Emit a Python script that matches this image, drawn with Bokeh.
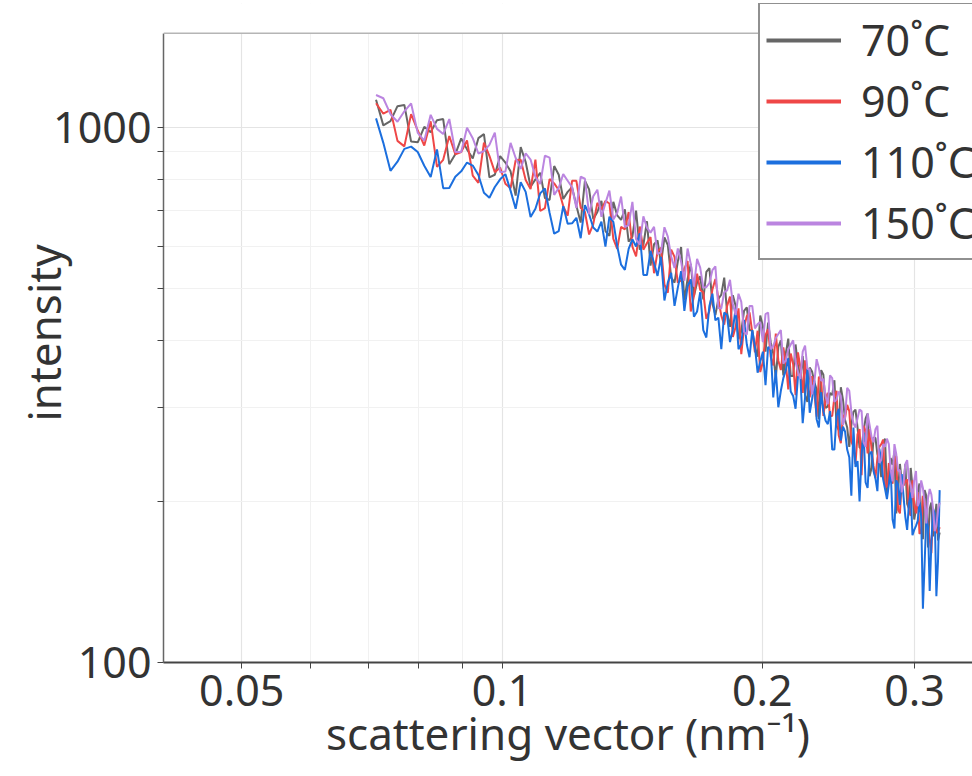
from bokeh.plotting import figure
from bokeh.models import Range1d, FixedTicker, Legend, LegendItem, BoxAnnotation, Span
from bokeh.embed import file_html
from bokeh.resources import INLINE

# scattering vector (nm^-1)
q = [0.0715, 0.0729, 0.0743, 0.0757, 0.0771, 0.0785, 0.0799, 0.0813, 0.0827, 0.0841,
     0.0855, 0.0869, 0.0883, 0.0897, 0.0911, 0.0925, 0.0939, 0.0953, 0.0967, 0.0981,
     0.0995, 0.1009, 0.1023, 0.1037, 0.1051, 0.1065, 0.1079, 0.1093, 0.1107, 0.1121,
     0.1135, 0.1149, 0.1163, 0.1177, 0.1191, 0.1205, 0.1219, 0.1233, 0.1247, 0.1261,
     0.1275, 0.1289, 0.1303, 0.1317, 0.1331, 0.1345, 0.1359, 0.1373, 0.1387, 0.1401,
     0.1415, 0.1429, 0.1443, 0.1457, 0.1471, 0.1485, 0.1499, 0.1513, 0.1527, 0.1541,
     0.1555, 0.1569, 0.1583, 0.1597, 0.1611, 0.1625, 0.1639, 0.1653, 0.1667, 0.1681,
     0.1695, 0.1709, 0.1723, 0.1737, 0.1751, 0.1765, 0.1779, 0.1793, 0.1807, 0.1821,
     0.1835, 0.1849, 0.1863, 0.1877, 0.1891, 0.1905, 0.1919, 0.1933, 0.1947, 0.1961,
     0.1975, 0.1989, 0.2003, 0.2017, 0.2031, 0.2045, 0.2059, 0.2073, 0.2087, 0.2101,
     0.2115, 0.2129, 0.2143, 0.2157, 0.2171, 0.2185, 0.2199, 0.2213, 0.2227, 0.2241,
     0.2255, 0.2269, 0.2283, 0.2297, 0.2311, 0.2325, 0.2339, 0.2353, 0.2367, 0.2381,
     0.2395, 0.2409, 0.2423, 0.2437, 0.2451, 0.2465, 0.2479, 0.2493, 0.2507, 0.2521,
     0.2535, 0.2549, 0.2563, 0.2577, 0.2591, 0.2605, 0.2619, 0.2633, 0.2647, 0.2661,
     0.2675, 0.2689, 0.2703, 0.2717, 0.2731, 0.2745, 0.2759, 0.2773, 0.2787, 0.2801,
     0.2815, 0.2829, 0.2843, 0.2857, 0.2871, 0.2885, 0.2899, 0.2913, 0.2927, 0.2941,
     0.2955, 0.2969, 0.2983, 0.2997, 0.3011, 0.3025, 0.3039, 0.3053, 0.3067, 0.3081,
     0.3095, 0.3109, 0.3123, 0.3137, 0.3151, 0.3165, 0.3179, 0.3193, 0.3207]

i70 = [1127, 1009, 1028, 1096, 1102, 941, 938, 1003, 980, 1032,
       1037, 854, 891, 954, 910, 875, 955, 972, 807, 816,
       884, 860, 828, 746, 919, 862, 775, 800, 823, 738,
       732, 847, 816, 735, 758, 773, 714, 664, 795, 766,
       674, 695, 729, 640, 627, 726, 685, 672, 703, 612,
       625, 699, 591, 603, 668, 552, 605, 615, 556, 623,
       603, 524, 513, 562, 598, 475, 521, 556, 484, 513,
       527, 477, 537, 546, 469, 446, 478, 487, 524, 450,
       424, 486, 464, 402, 416, 454, 461, 418, 418, 389,
       373, 445, 425, 381, 432, 397, 378, 340, 389, 400,
       344, 378, 403, 343, 343, 393, 359, 343, 374, 316,
       307, 356, 350, 334, 324, 285, 352, 345, 299, 301,
       319, 316, 337, 277, 272, 327, 310, 284, 275, 253,
       278, 294, 297, 275, 252, 252, 271, 286, 292, 223,
       231, 263, 263, 245, 239, 222, 258, 262, 206, 222,
       241, 234, 248, 190, 210, 235, 218, 216, 235, 198,
       194, 231, 213, 185, 194, 208, 216, 190, 170, 210,
       205, 164, 194, 199, 172, 183, 198, 169, 175]

i90 = [1110, 1061, 1079, 944, 922, 1059, 987, 925, 1027, 844,
       870, 964, 891, 900, 946, 813, 788, 937, 885, 825,
       842, 785, 770, 869, 870, 798, 767, 871, 698, 707,
       801, 786, 764, 713, 684, 795, 795, 708, 695, 631,
       660, 723, 702, 729, 721, 619, 593, 652, 645, 695,
       599, 574, 653, 591, 608, 624, 534, 586, 596, 509,
       491, 591, 573, 513, 518, 544, 563, 453, 484, 533,
       497, 492, 439, 454, 498, 521, 478, 445, 428, 464,
       483, 406, 424, 459, 377, 424, 444, 451, 414, 380,
       417, 349, 365, 409, 420, 373, 359, 412, 367, 352,
       388, 363, 324, 378, 361, 316, 380, 356, 319, 367,
       327, 313, 343, 320, 288, 342, 339, 289, 311, 319,
       289, 289, 313, 322, 266, 257, 290, 287, 303, 295,
       259, 253, 235, 267, 273, 224, 277, 271, 246, 273,
       251, 233, 221, 241, 253, 256, 261, 213, 213, 236,
       220, 216, 239, 243, 193, 190, 218, 214, 218, 220,
       192, 188, 219, 197, 190, 208, 174, 175, 205, 199,
       192, 179, 170, 160, 192, 187, 175, 175, 179]

i110 = [1040, 936, 830, 863, 912, 921, 900, 848, 808, 910,
        770, 771, 809, 828, 860, 849, 815, 755, 739, 774,
        800, 818, 762, 705, 790, 758, 680, 705, 753, 769,
        693, 633, 640, 713, 661, 662, 678, 621, 716, 688,
        650, 639, 667, 599, 681, 666, 600, 554, 542, 593,
        618, 599, 634, 530, 530, 588, 558, 528, 573, 475,
        513, 535, 464, 502, 539, 454, 505, 520, 443, 453,
        492, 418, 405, 464, 489, 436, 441, 385, 451, 446,
        397, 419, 460, 385, 394, 437, 393, 372, 418, 389,
        348, 365, 381, 330, 389, 385, 313, 352, 300, 322,
        340, 352, 371, 321, 315, 298, 342, 343, 280, 313,
        354, 293, 310, 337, 285, 275, 320, 295, 283, 279,
        295, 250, 250, 289, 298, 260, 276, 270, 250, 242,
        205, 275, 232, 238, 200, 245, 269, 217, 212, 245,
        248, 228, 221, 209, 251, 239, 220, 211, 202, 215,
        229, 185, 178, 219, 215, 197, 225, 204, 187, 177,
        198, 208, 173, 177, 180, 184, 200, 188, 126, 153,
        188, 179, 136, 167, 194, 190, 133, 155, 210]

i150 = [1150, 1134, 1059, 1025, 1072, 1109, 977, 945, 1056, 994,
        972, 1037, 900, 900, 999, 955, 894, 903, 928, 978,
        825, 827, 936, 877, 837, 895, 871, 808, 784, 886,
        878, 748, 771, 818, 795, 773, 707, 809, 802, 688,
        744, 765, 681, 722, 762, 673, 692, 743, 651, 657,
        726, 618, 604, 682, 650, 636, 652, 580, 584, 651,
        625, 574, 546, 594, 561, 517, 594, 556, 504, 568,
        547, 502, 503, 512, 541, 550, 460, 459, 492, 496,
        519, 468, 446, 489, 472, 415, 410, 464, 464, 421,
        429, 433, 397, 448, 451, 385, 390, 404, 411, 418,
        362, 367, 385, 393, 400, 365, 349, 339, 381, 391,
        354, 353, 317, 334, 369, 355, 336, 339, 314, 304,
        344, 340, 307, 310, 321, 315, 278, 287, 326, 322,
        294, 280, 275, 286, 297, 295, 258, 253, 292, 278,
        264, 258, 273, 277, 236, 239, 256, 253, 262, 256,
        229, 218, 256, 245, 228, 229, 208, 216, 235, 239,
        220, 214, 203, 219, 228, 196, 200, 219, 212, 199,
        182, 203, 211, 206, 194, 176, 180, 193, 199]

labels = ["70˚C", "90˚C", "110˚C", "150˚C"]
colors = ["#666666", "#ef4747", "#1c6fde", "#bb85e0"]
series = [i70, i90, i110, i150]

x_major = [0.05, 0.1, 0.2, 0.3]
x_minor = [0.04, 0.06, 0.07, 0.08, 0.09]
y_major = [100, 1000]
y_minor = [200, 300, 400, 500, 600, 700, 800, 900]
y_top = 1500

FONT = "Noto Sans"

p = figure(width=972, height=776, x_axis_type="log", y_axis_type="log",
           x_range=Range1d(0.0406, 0.350), y_range=Range1d(100, 1705),
           output_backend="svg", toolbar_location=None,
           min_border_left=163, min_border_right=0, min_border_top=3, min_border_bottom=114)
p.outline_line_color = None
p.background_fill_color = "white"

for ys, c in zip(series, colors):
    p.line(q, ys, line_color=c, line_width=2)

# white area above the plotting region and its top border line
p.add_layout(BoxAnnotation(bottom=y_top, fill_color="white", fill_alpha=1.0, line_alpha=0))
p.add_layout(Span(location=y_top, dimension="width", line_color="#b5b5b5", line_width=1.5))

# legend-only renderers with thicker strokes
legend_items = []
for lab, c, ys in zip(labels, colors, series):
    r = p.line([q[0]], [ys[0]], line_color=c, line_width=4)
    legend_items.append(LegendItem(label=lab, renderers=[r]))

# axes
p.xaxis.ticker = FixedTicker(ticks=x_major, minor_ticks=x_minor)
p.yaxis.ticker = FixedTicker(ticks=y_major, minor_ticks=y_minor)
p.xaxis.major_label_overrides = {0.05: "0.05", 0.1: "0.1", 0.2: "0.2", 0.3: "0.3"}
p.yaxis.major_label_overrides = {100: "100", 1000: "1000"}
p.yaxis.bounds = (100, y_top)

for ax in (p.xaxis[0], p.yaxis[0]):
    ax.major_label_text_font = FONT
    ax.major_label_text_font_size = "43px"
    ax.major_label_text_color = "#333333"
    ax.axis_label_text_font = FONT
    ax.axis_label_text_font_style = "normal"
    ax.axis_label_text_color = "#333333"
    ax.major_tick_in = 0
    ax.major_tick_out = 6
    ax.minor_tick_in = 0
    ax.minor_tick_out = 6
    ax.major_tick_line_color = "#444444"
    ax.minor_tick_line_color = "#444444"
    ax.major_label_standoff = 6

p.xaxis.axis_label = "scattering vector (nm⁻¹)"
p.yaxis.axis_label = "intensity"
p.xaxis.axis_label_text_font_size = "44px"
p.yaxis.axis_label_text_font_size = "44px"
p.xaxis.axis_line_color = "#444444"
p.xaxis.axis_line_width = 2
p.yaxis.axis_line_color = "#666666"
p.yaxis.axis_line_width = 1.5
p.xaxis.axis_label_standoff = -6
p.yaxis.axis_label_standoff = -24

# grid
p.xgrid.grid_line_color = "#e4e4e4"
p.xgrid.grid_line_width = 1.2
p.xgrid.minor_grid_line_color = "#f1f1f1"
p.ygrid.grid_line_color = "#e4e4e4"
p.ygrid.grid_line_width = 1.2
p.ygrid.minor_grid_line_color = "#f1f1f1"

legend = Legend(items=legend_items, location=(595, 402),
                label_text_font=FONT, label_text_font_size="43px", label_text_color="#333333",
                glyph_width=75, glyph_height=40, label_standoff=20, spacing=2,
                padding=6, margin=0, border_line_color="#222222", border_line_width=2,
                background_fill_color="white", background_fill_alpha=1.0)
p.add_layout(legend)

open("out.html", "w").write(file_html(p, INLINE))
